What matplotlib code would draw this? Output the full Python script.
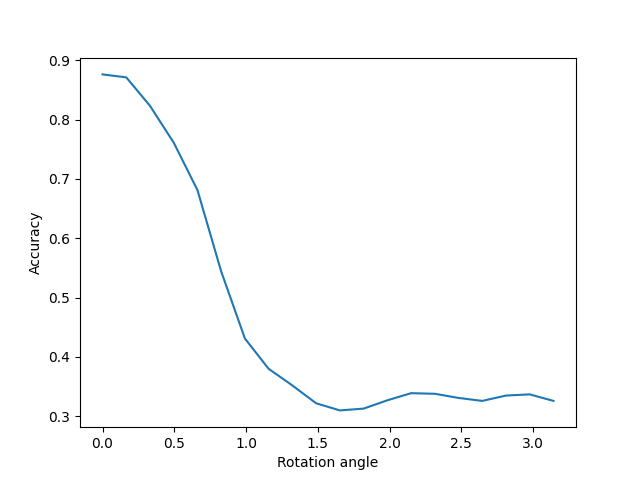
import matplotlib
matplotlib.use("Agg")
import matplotlib.pyplot as plt

angles = [0.0, 0.1653, 0.3307, 0.4960, 0.6614, 0.8267, 0.9921, 1.1574, 1.3228, 1.4881,
          1.6535, 1.8188, 1.9842, 2.1495, 2.3149, 2.4802, 2.6456, 2.8109, 2.9762, 3.1416]
accuracy = [0.876, 0.871, 0.823, 0.761, 0.681, 0.544, 0.431, 0.380, 0.352, 0.322,
            0.310, 0.313, 0.327, 0.339, 0.338, 0.331, 0.326, 0.335, 0.337, 0.326]

fig, ax = plt.subplots(figsize=(6.4, 4.8), dpi=100)
ax.plot(angles, accuracy)
ax.set_xlabel("Rotation angle")
ax.set_ylabel("Accuracy")
fig.savefig("out.png")
